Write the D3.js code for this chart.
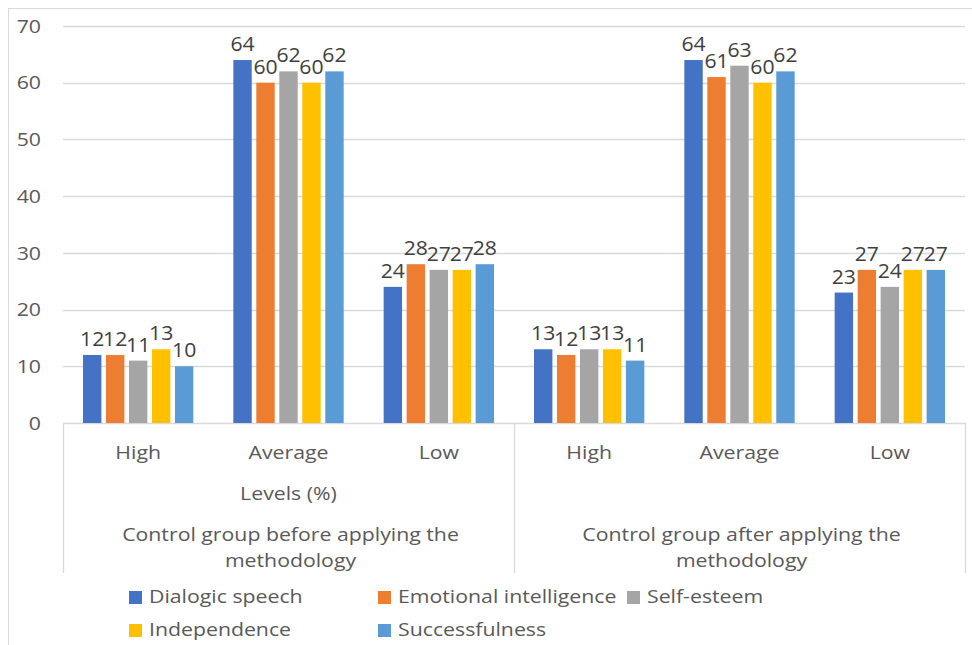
<!DOCTYPE html>
<html>
<head>
<meta charset="utf-8">
<script src="https://cdn.jsdelivr.net/npm/d3@7"></script>
<style>
  body { margin: 0; background: #fff; }
  svg text { font-family: "Open Sans", sans-serif; }
</style>
</head>
<body>
<svg id="chart" width="972" height="645"></svg>
<script>
// --- data
const groups = ['Control group before applying the|methodology', 'Control group after applying the|methodology']
const levels = ['High', 'Average', 'Low']
const seriesNames = ['Dialogic speech', 'Emotional intelligence', 'Self-esteem', 'Independence', 'Successfulness']
const seriesColors = ['#4472C4', '#ED7D31', '#A5A5A5', '#FFC000', '#5B9BD5']
// values per series, in order: before (High, Average, Low), after (High, Average, Low)
const dialogicSpeech = [12, 64, 24, 13, 64, 23]
const emotionalIntelligence = [12, 60, 28, 12, 61, 27]
const selfEsteem = [11, 62, 27, 13, 63, 24]
const independence = [13, 60, 27, 13, 60, 27]
const successfulness = [10, 62, 28, 11, 62, 27]
const yTicks = [0, 10, 20, 30, 40, 50, 60, 70]
const levelsTitle = 'Levels (%)'

const seriesValues = [dialogicSpeech, emotionalIntelligence, selfEsteem, independence, successfulness]
const cats = []
groups.forEach((g, gi) => levels.forEach((l, li) => cats.push({id: gi + '-' + li, group: gi, level: l})))

const svg = d3.select('#chart')
const gridColor = '#d9d9d9'
const textColor = '#595959'
const stretch = 1.12 // the reference glyphs are a bit wider than Open Sans

// positions text through a transform so it can be widened a little
const place = (x, y, sx = stretch) => `translate(${x},${y}) scale(${sx},1)`

// outer chart border (runs off the right and bottom edges)
svg.append('rect')
    .attr('x', 8.5).attr('y', 8.5).attr('width', 1000).attr('height', 700)
    .attr('fill', 'none').attr('stroke', gridColor)

// scales
const plot = {left: 63, right: 965}
const x0 = d3.scaleBand().domain(cats.map(c => c.id)).range([plot.left, plot.right])
const x1 = d3.scaleBand().domain(seriesNames).range([0, x0.bandwidth()])
    .paddingInner(0.2).paddingOuter(0.87)
const y = d3.scaleLinear().domain([0, 70]).range([423, 26])

// gridlines
svg.append('g').selectAll('line').data(yTicks).join('line')
    .attr('x1', plot.left).attr('x2', plot.right)
    .attr('y1', d => Math.round(y(d)) + 0.5).attr('y2', d => Math.round(y(d)) + 0.5)
    .attr('stroke', gridColor).attr('stroke-width', 1.3)

// y axis labels
svg.append('g').selectAll('text').data(yTicks).join('text')
    .attr('transform', d => place(41, y(d)))
    .attr('dy', '0.35em').attr('text-anchor', 'end')
    .attr('fill', textColor).style('font-size', '19px')
    .text(d => d)

// bars
const barsG = svg.append('g')
seriesNames.forEach((name, si) => {
    const data = cats.map((c, ci) => ({cat: c, value: seriesValues[si][ci]}))
    barsG.append('g').selectAll('rect').data(data).join('rect')
        .attr('x', d => x0(d.cat.id) + x1(name))
        .attr('y', d => y(d.value))
        .attr('width', x1.bandwidth())
        .attr('height', d => y(0) - y(d.value))
        .attr('fill', seriesColors[si])
    barsG.append('g').selectAll('text').data(data).join('text')
        .attr('transform', d => place(x0(d.cat.id) + x1(name) + x1.bandwidth() / 2, y(d.value) - 9, 1.06))
        .attr('text-anchor', 'middle')
        .attr('fill', '#404040').style('font-size', '20px')
        .text(d => d.value)
})

// category axis: separators and labels
const sepX = [plot.left, x0(cats[3].id), plot.right]
svg.append('g').selectAll('line').data(sepX).join('line')
    .attr('x1', d => Math.round(d) + 0.5).attr('x2', d => Math.round(d) + 0.5)
    .attr('y1', y(0)).attr('y2', 573)
    .attr('stroke', gridColor).attr('stroke-width', 1.3)

svg.append('g').selectAll('text').data(cats).join('text')
    .attr('transform', d => place(x0(d.id) + x0.bandwidth() / 2, 459))
    .attr('text-anchor', 'middle').attr('fill', textColor).style('font-size', '19px')
    .text(d => d.level)

svg.append('text')
    .attr('transform', place(x0(cats[1].id) + x0.bandwidth() / 2, 500))
    .attr('text-anchor', 'middle').attr('fill', textColor).style('font-size', '19px')
    .text(levelsTitle)

groups.forEach((g, gi) => {
    const cx = (sepX[gi] + sepX[gi + 1]) / 2 + 2
    const t = svg.append('text').attr('text-anchor', 'middle')
        .attr('transform', place(cx, 541))
        .attr('fill', textColor).style('font-size', '19px')
    g.split('|').forEach((line, li) => {
        t.append('tspan').attr('x', 0).attr('y', li * 26).text(line)
    })
})

// legend
const legendCols = 3, legendColW = 249
const legend = svg.append('g').attr('transform', 'translate(129,591)')
    .selectAll('g').data(seriesNames).join('g')
    .attr('transform', (d, i) => `translate(${(i % legendCols) * legendColW},${Math.floor(i / legendCols) * 33})`)
legend.append('rect').attr('width', 13).attr('height', 13)
    .attr('fill', (d, i) => seriesColors[i])
legend.append('text').attr('transform', place(20, 12))
    .attr('fill', textColor).style('font-size', '19px')
    .text(d => d)
</script>
</body>
</html>
